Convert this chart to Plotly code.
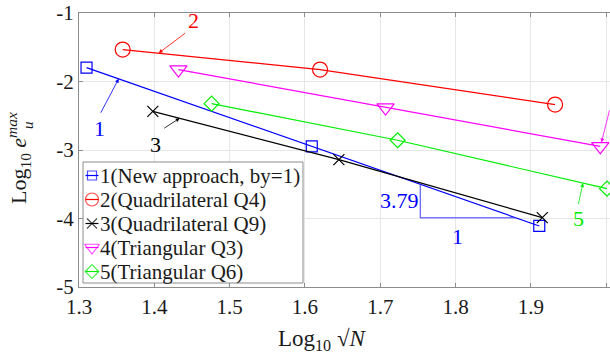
import numpy as np
import plotly.graph_objects as go

# ---- data: log10 of max error vs log10 sqrt(N) ----
names = ["1(New approach, by=1)", "2(Quadrilateral Q4)", "3(Quadrilateral Q9)",
         "4(Triangular Q3)", "5(Triangular Q6)"]
x_new = [1.310, 1.609, 1.911]
y_new = [-1.797, -2.946, -4.109]
x_q4 = [1.358, 1.620, 1.932]
y_q4 = [-1.534, -1.826, -2.337]
x_q9 = [1.398, 1.645, 1.915]
y_q9 = [-2.435, -3.140, -3.987]
x_t3 = [1.432, 1.707, 1.992]
y_t3 = [-1.826, -2.381, -2.946]
x_t6 = [1.476, 1.723, 2.001]
y_t6 = [-2.323, -2.858, -3.564]
slope_label = "3.79"

x_ticks = [1.3, 1.4, 1.5, 1.6, 1.7, 1.8, 1.9, 2.0]
x_ticktext = ["1.3", "1.4", "1.5", "1.6", "1.7", "1.8", "1.9", "2"]
y_ticks = [-5, -4, -3, -2, -1]
y_ticktext = ["-5", "-4", "-3", "-2", "-1"]

# ---- styling ----
W, H = 610, 363
ML, MR, MT, MB = 79, 0, 13, 76
PX_PER_X = 753.3          # pixels per unit on the x axis
FONT = "Liberation Serif"
AX_COL = "#8c8c8c"
GRID_COL = "#e6e6e6"
TXT_COL = "#1a1a1a"

colors = ["#0000ff", "#ff0000", "#000000", "#ff00ff", "#00ee00"]
symbols = ["square-open", "circle-open", "x-thin-open", "triangle-down-open", "diamond-open"]
sizes = [11, 15, 11, 15, 11.5]
series = [(x_new, y_new), (x_q4, y_q4), (x_q9, y_q9), (x_t3, y_t3), (x_t6, y_t6)]

plot_w = W - ML - MR
plot_h = H - MT - MB
x_max = 1.3 + plot_w / PX_PER_X


def px_x(px):
    return (px - ML) / plot_w


def px_y(py):
    return (H - MB - py) / plot_h


fig = go.Figure()

for (xs, ys), c, s, sz, n in zip(series, colors, symbols, sizes, names):
    fig.add_trace(go.Scatter(
        x=xs, y=ys, mode="lines+markers", name=n, showlegend=False,
        line=dict(color=c, width=1.2),
        marker=dict(symbol=s, size=sz, color=c, line=dict(color=c, width=1.2)),
        cliponaxis=False,
    ))

# ---- legend drawn on an overlay pixel axis ----
leg_x0, leg_x1, leg_y0, leg_y1 = 83, 303, 162, 283
leg_rows = [175.5 + 24 * i for i in range(5)]
leg_sizes = [9, 13, 10, 13, 10.5]
fig.add_trace(go.Scatter(
    x=[leg_x0, leg_x1, leg_x1, leg_x0, leg_x0], y=[leg_y0, leg_y0, leg_y1, leg_y1, leg_y0],
    xaxis="x2", yaxis="y2", mode="lines", fill="toself", fillcolor="white",
    line=dict(color=AX_COL, width=1), showlegend=False, hoverinfo="skip",
))
for yc, c, s, sz, n in zip(leg_rows, colors, symbols, leg_sizes, names):
    fig.add_trace(go.Scatter(
        x=[85.5, 92, 98.5], y=[yc, yc, yc], xaxis="x2", yaxis="y2",
        mode="lines+markers", showlegend=False, hoverinfo="skip",
        line=dict(color=c, width=1.2),
        marker=dict(symbol=s, size=[0, sz, 0], color=c, line=dict(color=c, width=1.2)),
    ))
    fig.add_annotation(xref="x2", yref="y2", x=98, y=yc, text=n, showarrow=False,
                       xanchor="left", yanchor="middle",
                       font=dict(family=FONT, size=21, color=TXT_COL))

# ---- slope triangle under the new-approach line ----
tri_x = 1.753
tri_y = -3.99
top_y = float(np.interp(tri_x, x_new, y_new))
right_x = float(np.interp(tri_y, y_new[::-1], x_new[::-1]))
fig.add_trace(go.Scatter(
    x=[tri_x, tri_x, right_x], y=[top_y, tri_y, tri_y], mode="lines",
    line=dict(color="#3a3aff", width=1), showlegend=False, hoverinfo="skip",
))
fig.add_annotation(x=1.726, y=-3.73, text=slope_label, showarrow=False,
                   font=dict(family=FONT, size=22, color="#0000ff"))
fig.add_annotation(x=1.802, y=-4.26, text="1", showarrow=False,
                   font=dict(family=FONT, size=22, color="#0000ff"))

# ---- series labels with pointer arrows ----
labels = [
    # text, text pos (x, y), arrow tip (x, y), arrow tail offset (px)
    ("1", (1.3275, -2.69), (1.3527, -1.96), (-19, 36), colors[0]),
    ("2", (1.4515, -1.11), (1.4058, -1.585), (28, -21), colors[1]),
    ("3", (1.4014, -2.92), (1.4337, -2.535), (-17, 11), colors[2]),
    ("5", (1.9637, -4.00), (1.969, -3.483), (-5, 23), colors[4]),
]
for t, (tx, ty), (ax_, ay_), (dx, dy), c in labels:
    fig.add_annotation(x=tx, y=ty, text=t, showarrow=False,
                       font=dict(family=FONT, size=22, color=c))
    fig.add_annotation(x=ax_, y=ay_, ax=dx, ay=dy, text=" ", showarrow=True,
                       arrowhead=2, arrowsize=1, arrowwidth=0.8, arrowcolor=c,
                       font=dict(size=1))

# label 4 sits just past the right edge
fig.add_annotation(x=1.9935, y=-2.89, ax=10, ay=-34, text=" ", showarrow=True,
                   arrowhead=2, arrowsize=1, arrowwidth=0.8, arrowcolor=colors[3],
                   font=dict(size=1))
fig.add_annotation(xref="paper", yref="paper", x=px_x(615), y=px_y(103), text="4",
                   xanchor="center", yanchor="middle",
                   showarrow=False, font=dict(family=FONT, size=22, color=colors[3]))

# ---- axis titles ----
fig.add_annotation(xref="paper", yref="paper", x=px_x(322), y=px_y(340),
                   xanchor="center", yanchor="middle",
                   text="Log<sub>10</sub> √<i>N</i>", showarrow=False,
                   font=dict(family=FONT, size=23, color=TXT_COL))
fig.add_annotation(xref="paper", yref="paper", x=px_x(18), y=px_y(158),
                   xanchor="center", yanchor="middle",
                   text="Log<sub>10</sub> <i>e</i><sup><i>max</i></sup>", textangle=-90,
                   showarrow=False, font=dict(family=FONT, size=22, color=TXT_COL))
fig.add_annotation(xref="paper", yref="paper", x=px_x(28), y=px_y(125),
                   xanchor="center", yanchor="middle",
                   text="<i>u</i>", textangle=-90,
                   showarrow=False, font=dict(family=FONT, size=15, color=TXT_COL))

axis_common = dict(showgrid=True, gridcolor=GRID_COL, gridwidth=1, zeroline=False,
                   showline=True, linecolor=AX_COL, linewidth=1,
                   ticks="inside", ticklen=4, tickcolor=AX_COL,
                   tickfont=dict(family=FONT, size=21, color=TXT_COL))

fig.update_layout(
    width=W, height=H, margin=dict(l=ML, r=MR, t=MT, b=MB),
    paper_bgcolor="white", plot_bgcolor="white",
    showlegend=False,
    xaxis=dict(range=[1.3, x_max], tickvals=x_ticks, ticktext=x_ticktext,
               mirror="ticks", ticklabelstandoff=1, **axis_common),
    yaxis=dict(range=[-5, -1], tickvals=y_ticks, ticktext=y_ticktext,
               mirror=False, **axis_common),
    xaxis2=dict(range=[ML, W - MR], overlaying="x", anchor="y2", visible=False),
    yaxis2=dict(range=[H - MB, MT], overlaying="y", anchor="x2", visible=False),
)

fig.write_html("out.html")
